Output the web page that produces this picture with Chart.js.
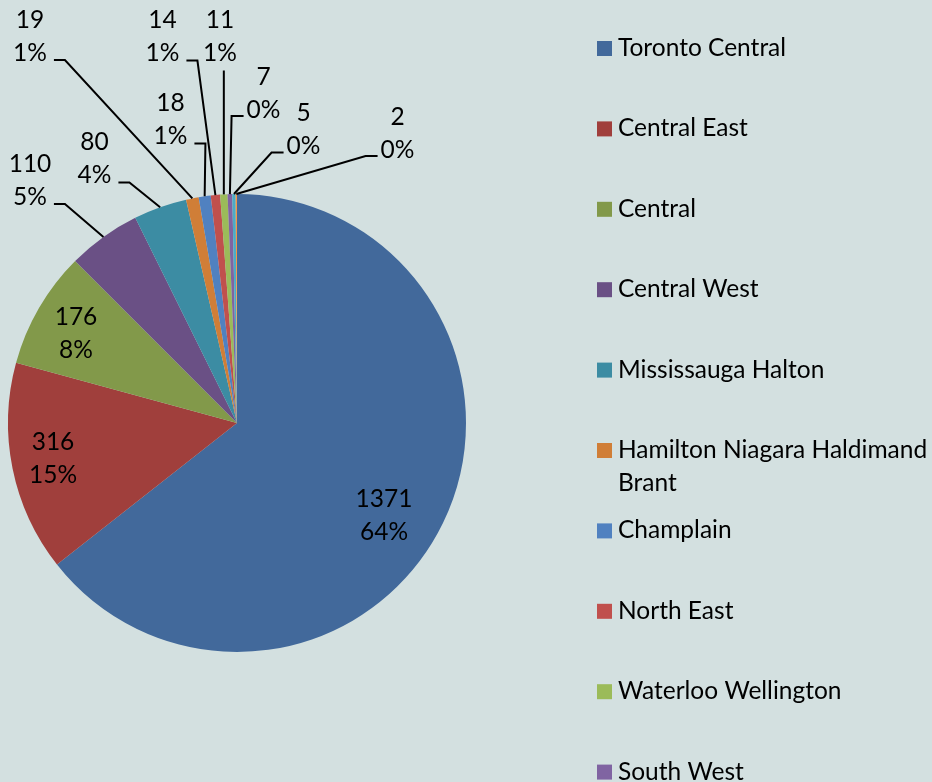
<!DOCTYPE html>
<html>
<head>
<meta charset="utf-8">
<script src="https://cdn.jsdelivr.net/npm/chart.js@4.4.0/dist/chart.umd.min.js"></script>
<style>
html, body { margin: 0; padding: 0; background: #d3e0e0; }
#chart { display: block; }
</style>
</head>
<body>
<canvas id="chart" width="932" height="782"></canvas>
<script>
var regions = ['Toronto Central', 'Central East', 'Central', 'Central West', 'Mississauga Halton',
  'Hamilton Niagara Haldimand Brant', 'Champlain', 'North East', 'Waterloo Wellington', 'South West',
  'South East', 'North Simcoe Muskoka'];
var counts = [1371, 316, 176, 110, 80, 19, 18, 14, 11, 7, 5, 2];
var colours = ['#42699b', '#a03f3c', '#82994a', '#6a5085', '#3c8ca3', '#d07e37',
  '#5081c0', '#c0504d', '#9bbb59', '#8064a2', '#4bacc6', '#f79646'];

// where each value label sits, offset from the pie centre, and which side the leader leaves from
var labelSpots = [
  [147, 93, 'none'], [-184, 35.5, 'none'], [-161, -89, 'none'],
  [-207, -242.5, 'right'], [-142.5, -264, 'right'], [-207, -386.5, 'right'],
  [-66.5, -303, 'right'], [-74.5, -386, 'right'], [-17, -386, 'bottom'],
  [26.5, -329.5, 'left'], [66.5, -293, 'left'], [160.5, -289.5, 'left']
];

var FONT = '24.5px Lato';
var total = counts.reduce(function(a, b){ return a + b; }, 0);

var paintBg = {
  id: 'paintBg',
  beforeDraw: function(chart){
    var ctx = chart.ctx;
    ctx.save();
    ctx.fillStyle = '#d3e0e0';
    ctx.fillRect(0, 0, chart.width, chart.height);
    ctx.restore();
  }
};

var pieLabels = {
  id: 'pieLabels',
  afterDatasetsDraw: function(chart){
    var ctx = chart.ctx,
      arcs = chart.getDatasetMeta(0).data;
    ctx.save();
    ctx.font = FONT;
    ctx.fillStyle = '#000';
    ctx.strokeStyle = '#000';
    ctx.lineWidth = 2;
    ctx.textAlign = 'center';
    ctx.textBaseline = 'middle';
    for (var i = 0; i < arcs.length; i++) {
      var a = arcs[i],
        cx = a.x + labelSpots[i][0],
        cy = a.y + labelSpots[i][1],
        pct = Math.round(counts[i] / total * 100) + '%';
      ctx.fillText(String(counts[i]), cx, cy - 16.5);
      ctx.fillText(pct, cx, cy + 16.5);
      var side = labelSpots[i][2];
      if (side === 'none') continue;
      var mid = (a.startAngle + a.endAngle) / 2,
        ex = a.x + Math.cos(mid) * a.outerRadius,
        ey = a.y + Math.sin(mid) * a.outerRadius,
        half = ctx.measureText(pct).width / 2;
      ctx.beginPath();
      if (side === 'right') {
        var sx = cx + half + 7, sy = cy + 23.5;
        ctx.moveTo(sx, sy);
        ctx.lineTo(sx + 11, sy);
      } else if (side === 'left') {
        var lx = cx - half - 3, ly = cy + 22.5;
        ctx.moveTo(lx, ly);
        ctx.lineTo(lx - 12, ly);
      } else {
        ctx.moveTo(ex, cy + 33.5);
      }
      ctx.lineTo(ex, ey);
      ctx.stroke();
    }
    ctx.restore();
  }
};

// legend keeps a fixed row pitch and runs off the bottom, like the original
var sideLegend = {
  id: 'sideLegend',
  afterDraw: function(chart){
    var ctx = chart.ctx,
      left = 597, textX = 618, first = 56, pitch = 80.4,
      maxW = chart.width - textX - 1;
    ctx.save();
    ctx.font = FONT;
    ctx.textAlign = 'left';
    ctx.textBaseline = 'alphabetic';
    for (var i = 0; i < regions.length; i++) {
      var base = first + i * pitch;
      ctx.fillStyle = colours[i];
      ctx.fillRect(left, base - 15, 15, 15);
      ctx.fillStyle = '#000';
      var words = regions[i].split(' '), line = '', y = base;
      for (var w = 0; w < words.length; w++) {
        var test = line ? line + ' ' + words[w] : words[w];
        if (line && ctx.measureText(test).width > maxW) {
          ctx.fillText(line, textX, y);
          line = words[w];
          y += 33;
        } else {
          line = test;
        }
      }
      ctx.fillText(line, textX, y);
    }
    ctx.restore();
  }
};

new Chart(document.getElementById('chart').getContext('2d'), {
  type: 'pie',
  data: {
    labels: regions,
    datasets: [{
      data: counts,
      backgroundColor: colours,
      borderWidth: 0
    }]
  },
  options: {
    responsive: false,
    animation: false,
    layout: { padding: { left: 8, top: 194, right: 466, bottom: 130 } },
    plugins: {
      legend: { display: false },
      tooltip: { enabled: false }
    }
  },
  plugins: [paintBg, pieLabels, sideLegend]
});
</script>
</body>
</html>
